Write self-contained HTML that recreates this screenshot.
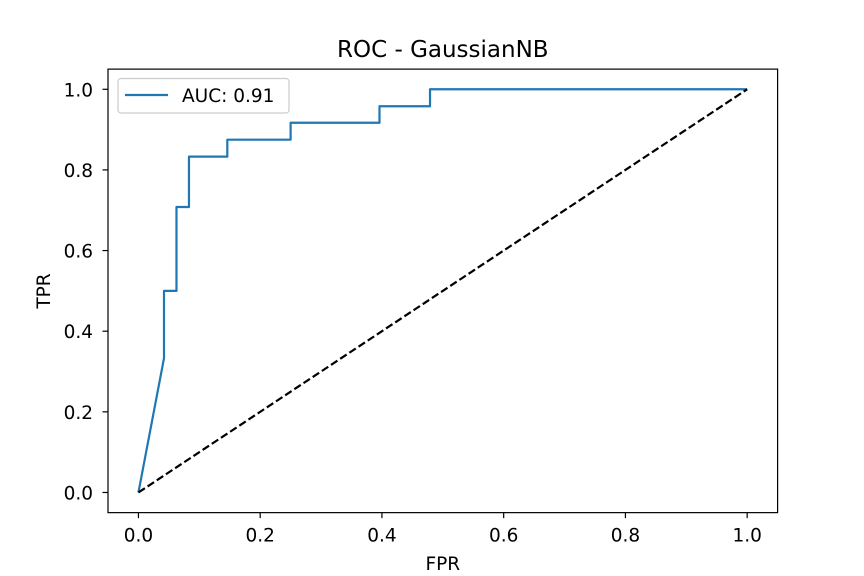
<!DOCTYPE html>
<html><head><meta charset="utf-8"><style>
html,body{margin:0;padding:0;background:#fff}
svg{display:block;font-family:"DejaVu Sans","Liberation Sans",sans-serif}
</style></head><body>
<svg id="chart" width="864" height="576" xmlns="http://www.w3.org/2000/svg">
<rect width="864" height="576" fill="#fff"/>
<text x="442.8" y="57" font-size="23" text-anchor="middle">ROC - GaussianNB</text>
<g id="grid"></g>
<g id="marks"></g>
<rect x="108" y="69.12" width="669.6" height="443.52" fill="none" stroke="#000" stroke-width="1.2"/>
<text x="442.8" y="570" font-size="18.5" text-anchor="middle">FPR</text>
<text x="0" y="0" font-size="18.5" text-anchor="middle" transform="translate(50,291) rotate(-90)">TPR</text>
<g>
<rect x="118" y="78.5" width="171" height="34.5" rx="3" fill="#fff" fill-opacity="0.8" stroke="#ccc" stroke-width="1.2"/>
<line x1="125" y1="95" x2="168" y2="95" stroke="#1f77b4" stroke-width="2.2"/>
<text x="182" y="102" font-size="18.5">AUC: 0.91</text>
</g>
</svg>
<script>
const fpr = [0, 0.042, 0.042, 0.0625, 0.0625, 0.083, 0.083, 0.146, 0.146, 0.25, 0.25, 0.396, 0.396, 0.479, 0.479, 1];
const tpr = [0, 0.333, 0.5, 0.5, 0.708, 0.708, 0.833, 0.833, 0.875, 0.875, 0.917, 0.917, 0.958, 0.958, 1, 1];
const diagX = [0, 1];
const diagY = [0, 1];
const xTicks = [0, 0.2, 0.4, 0.6, 0.8, 1.0];
const yTicks = [0, 0.2, 0.4, 0.6, 0.8, 1.0];
const xTickLabels = ["0.0","0.2","0.4","0.6","0.8","1.0"];
const yTickLabels = ["0.0","0.2","0.4","0.6","0.8","1.0"];

const L=108,R=777.6,T=69.12,B=512.64;
const xs=v=>L+(v+0.05)/1.1*(R-L);
const ys=v=>B-(v+0.05)/1.1*(B-T);
const NS="http://www.w3.org/2000/svg";
const g=document.getElementById('grid'), m=document.getElementById('marks');
function mk(tag,attrs,parent){const e=document.createElementNS(NS,tag);for(const k in attrs)e.setAttribute(k,attrs[k]);parent.appendChild(e);return e;}

xTicks.forEach((v,i)=>{
  const x=xs(v);
  const t=mk('line',{x1:x,x2:x,y1:B,y2:B+5.5,stroke:'#000','stroke-width':1.2},g);
  
  
  const l=mk('text',{x:x,y:B+29,'font-size':18.5,'text-anchor':'middle'},g);
  l.textContent=xTickLabels[i];
  
  
});
yTicks.forEach((v,i)=>{
  const y=ys(v);
  const t=mk('line',{x1:L-5.5,x2:L,y1:y,y2:y,stroke:'#000','stroke-width':1.2},g);
  
  
  const l=mk('text',{x:L-15,y:y+7,'font-size':18.5,'text-anchor':'end'},g);
  l.textContent=yTickLabels[i];
  
  
});

const rocPts=fpr.map((v,i)=>xs(v)+','+ys(tpr[i])).join(' ');
const roc=mk('polyline',{points:rocPts,fill:'none',stroke:'#1f77b4','stroke-width':2.2,'stroke-linejoin':'round'},m);



const dPts=diagX.map((v,i)=>xs(v)+','+ys(diagY[i])).join(' ');
const d=mk('polyline',{points:dPts,fill:'none',stroke:'#000','stroke-width':2.2,'stroke-dasharray':'7.7,3.3'},m);


</script>
</body></html>
